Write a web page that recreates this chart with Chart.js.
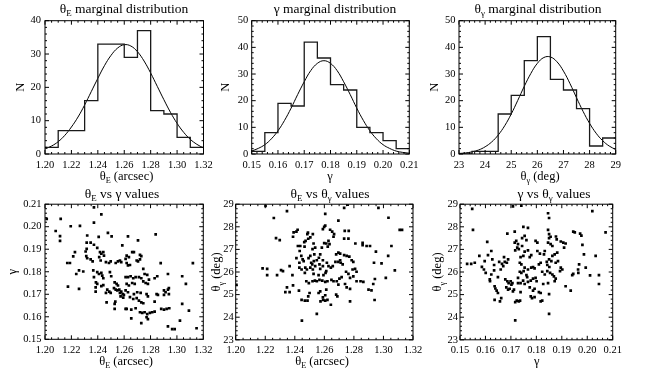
<!DOCTYPE html>
<html>
<head>
<meta charset="utf-8">
<script src="https://cdn.jsdelivr.net/npm/chart.js@4.4.0/dist/chart.umd.min.js"></script>
<style>
body { margin: 0; background: #fff; }
#wrap { position: relative; width: 646px; height: 371px; }
#wrap canvas { position: absolute; left: 0; top: 0; }
</style>
</head>
<body>
<div id="wrap">
<canvas id="p1" width="646" height="371"></canvas>
<canvas id="p2" width="646" height="371"></canvas>
<canvas id="p3" width="646" height="371"></canvas>
<canvas id="p4" width="646" height="371"></canvas>
<canvas id="p5" width="646" height="371"></canvas>
<canvas id="p6" width="646" height="371"></canvas>
</div>
<script>
// tick labels
var thetaETicks = ['1.20', '1.22', '1.24', '1.26', '1.28', '1.30', '1.32'];
var gammaTicks = ['0.15', '0.16', '0.17', '0.18', '0.19', '0.20', '0.21'];
var thetaGTicks = ['23', '24', '25', '26', '27', '28', '29'];
var n40Ticks = ['0', '10', '20', '30', '40'];
var n50Ticks = ['0', '10', '20', '30', '40', '50'];

// histograms (bin edges + counts)
var thetaEEdges = [1.20, 1.21, 1.22, 1.23, 1.24, 1.25, 1.26, 1.27, 1.28, 1.29, 1.30, 1.31, 1.32];
var thetaECounts = [2, 7, 7, 16, 33, 33, 29, 37, 13, 12, 5, 2];
var gammaEdges = [0.150, 0.155, 0.160, 0.165, 0.170, 0.175, 0.180, 0.185, 0.190, 0.195, 0.200, 0.205, 0.210];
var gammaCounts = [1, 8, 19, 18, 42, 36, 26, 24, 10, 8, 5, 2];
var thetaGEdges = [23.0, 23.5, 24.0, 24.5, 25.0, 25.5, 26.0, 26.5, 27.0, 27.5, 28.0, 28.5, 29.0];
var thetaGCounts = [0, 1, 1, 15, 22, 35, 44, 28, 24, 17, 3, 6];

// fitted curves
var thetaEFitX = [1.200, 1.205, 1.210, 1.215, 1.220, 1.225, 1.230, 1.235, 1.240, 1.245, 1.250, 1.255, 1.260,
    1.265, 1.270, 1.275, 1.280, 1.285, 1.290, 1.295, 1.300, 1.305, 1.310, 1.315, 1.320];
var thetaEFitN = [1.5, 2.4, 3.7, 5.6, 8.1, 11.1, 14.7, 18.7, 22.7, 26.5, 29.6, 31.8, 32.8,
    32.4, 30.7, 27.9, 24.3, 20.3, 16.3, 12.5, 9.2, 6.5, 4.4, 2.9, 1.8];
var gammaFitX = [0.1500, 0.1525, 0.1550, 0.1575, 0.1600, 0.1625, 0.1650, 0.1675, 0.1700, 0.1725, 0.1750, 0.1775,
    0.1800, 0.1825, 0.1850, 0.1875, 0.1900, 0.1925, 0.1950, 0.1975, 0.2000, 0.2025, 0.2050, 0.2075, 0.2100];
var gammaFitN = [1.1, 2.1, 3.5, 5.7, 8.7, 12.6, 17.2, 22.3, 27.1, 31.3, 34.0, 35.0,
    34.0, 31.3, 27.1, 22.3, 17.2, 12.6, 8.7, 5.7, 3.5, 2.1, 1.1, 0.6, 0.3];
var thetaGFitX = [23.00, 23.25, 23.50, 23.75, 24.00, 24.25, 24.50, 24.75, 25.00, 25.25, 25.50, 25.75, 26.00,
    26.25, 26.50, 26.75, 27.00, 27.25, 27.50, 27.75, 28.00, 28.25, 28.50, 28.75, 29.00];
var thetaGFitN = [0.2, 0.4, 0.8, 1.5, 2.7, 4.5, 7.1, 10.6, 15.0, 20.1, 25.4, 30.2, 34.0,
    36.2, 36.4, 34.6, 31.1, 26.4, 21.1, 16.0, 11.5, 7.8, 5.0, 3.0, 1.7];

// scatter: thetaE vs gamma
var egThetaE = [1.2013, 1.2119, 1.2371, 1.2427, 1.2371, 1.2195, 1.2265, 1.2081, 1.2114, 1.2114, 1.2320, 1.2407,
    1.2477, 1.2505, 1.2586, 1.2316, 1.2346, 1.2371, 1.2396, 1.2316, 1.2308, 1.2227, 1.2214, 1.2169, 1.2189,
    1.2237, 1.2258, 1.2290, 1.2174, 1.2258, 1.2313, 1.2320, 1.2346, 1.2361, 1.2417, 1.2427, 1.2442, 1.2447,
    1.2411, 1.2422, 1.2462, 1.2485, 1.2498, 1.2536, 1.2553, 1.2568, 1.2578, 1.2366, 1.2371, 1.2396, 1.2409,
    1.2427, 1.2434, 1.2442, 1.2492, 1.2502, 1.2386, 1.2396, 1.2384, 1.2427, 1.2442, 1.2384, 1.2472, 1.2487,
    1.2498, 1.2462, 1.2528, 1.2543, 1.2553, 1.2523, 1.2536, 1.2548, 1.2563, 1.2568, 1.2578, 1.2589, 1.2573,
    1.2593, 1.2598, 1.2533, 1.2528, 1.2528, 1.2467, 1.2611,
    1.2839, 1.2705, 1.2629, 1.2661, 1.2674, 1.2619, 1.2636, 1.2611, 1.2619, 1.2644, 1.2629, 1.2695, 1.2705,
    1.2720, 1.2730, 1.2720, 1.2877, 1.3121, 1.2745, 1.3040, 1.3068, 1.2932, 1.2611, 1.2629, 1.2649, 1.2669,
    1.2687, 1.2712, 1.2730, 1.2755, 1.2775, 1.2788, 1.2745, 1.2763, 1.2780, 1.2851, 1.2831, 1.2619, 1.2636,
    1.2661, 1.2680, 1.2611, 1.2629, 1.2644, 1.2669, 1.2695, 1.2712, 1.2730, 1.2745, 1.2674, 1.2699, 1.2725,
    1.2770, 1.2780, 1.2846, 1.2856, 1.2902, 1.2914, 1.2932, 1.2939, 1.2902, 1.2939, 1.2831, 1.3040, 1.2619,
    1.2654, 1.2687, 1.2720, 1.2737, 1.2755, 1.2775, 1.2795, 1.2813, 1.2831, 1.2654, 1.2770, 1.2780, 1.2730,
    1.2881, 1.2902, 1.2922, 1.2942, 1.3091, 1.3023, 1.2932, 1.2964, 1.2983, 1.3149];
var egGamma = [0.2035, 0.2035, 0.2086, 0.2055, 0.2018, 0.2002, 0.2004, 0.1981, 0.1958, 0.1937, 0.1961, 0.1955,
    0.1973, 0.1957, 0.1917, 0.1929, 0.1929, 0.1920, 0.1906, 0.1902, 0.1890, 0.1887, 0.1868, 0.1839, 0.1839,
    0.1790, 0.1806, 0.1801, 0.1734, 0.1724, 0.1869, 0.1860, 0.1855, 0.1846, 0.1887, 0.1880, 0.1887, 0.1872,
    0.1865, 0.1850, 0.1843, 0.1839, 0.1846, 0.1839, 0.1846, 0.1850, 0.1843, 0.1806, 0.1776, 0.1798, 0.1790,
    0.1795, 0.1783, 0.1771, 0.1798, 0.1780, 0.1753, 0.1746, 0.1731, 0.1736, 0.1741, 0.1712, 0.1721, 0.1712,
    0.1706, 0.1706, 0.1753, 0.1746, 0.1739, 0.1727, 0.1721, 0.1717, 0.1721, 0.1706, 0.1712, 0.1701, 0.1691,
    0.1685, 0.1697, 0.1667, 0.1657, 0.1635, 0.1664, 0.1635,
    0.1966, 0.1939, 0.1957, 0.1887, 0.1887, 0.1872, 0.1865, 0.1857, 0.1839, 0.1830, 0.1828, 0.1850, 0.1846,
    0.1855, 0.1869, 0.1875, 0.1838, 0.1838, 0.1813, 0.1780, 0.1746, 0.1790, 0.1776, 0.1776, 0.1780, 0.1771,
    0.1776, 0.1776, 0.1771, 0.1790, 0.1786, 0.1765, 0.1757, 0.1750, 0.1746, 0.1780, 0.1771, 0.1746, 0.1739,
    0.1750, 0.1746, 0.1717, 0.1709, 0.1687, 0.1679, 0.1683, 0.1672, 0.1664, 0.1660, 0.1701, 0.1709, 0.1706,
    0.1701, 0.1691, 0.1701, 0.1697, 0.1717, 0.1709, 0.1721, 0.1727, 0.1697, 0.1701, 0.1667, 0.1657, 0.1635,
    0.1632, 0.1638, 0.1620, 0.1617, 0.1620, 0.1612, 0.1617, 0.1620, 0.1623, 0.1593, 0.1598, 0.1590, 0.1572,
    0.1635, 0.1632, 0.1635, 0.1638, 0.1627, 0.1583, 0.1557, 0.1545, 0.1545, 0.1549];

// scatter: thetaE vs theta_gamma
var etThetaE = [1.2202, 1.2258, 1.2347, 1.2273, 1.2298, 1.2388, 1.2392, 1.2411, 1.2419, 1.2421, 1.2433, 1.2444,
    1.2453, 1.2460, 1.2431, 1.2485, 1.2489, 1.2464, 1.2473, 1.2491, 1.2505, 1.2522, 1.2527, 1.2520, 1.2532,
    1.2538, 1.2511, 1.2518, 1.2529, 1.2549, 1.2563, 1.2567, 1.2590, 1.2471, 1.2482, 1.2468, 1.2431, 1.2446,
    1.2505, 1.2522, 1.2538, 1.2572, 1.2590, 1.2478, 1.2495, 1.2520, 1.2536, 1.2549, 1.2567, 1.2586, 1.2428,
    1.2446, 1.2468, 1.2486, 1.2448, 1.2549, 1.2500, 1.2491, 1.2561, 1.2572, 1.2590, 1.2574, 1.2592, 1.2606,
    1.2336, 1.2365, 1.2347, 1.2388, 1.2384, 1.2320, 1.2307, 1.2182, 1.2213, 1.2213, 1.2280, 1.2365, 1.2411,
    1.2437, 1.2466, 1.2493, 1.2505, 1.2583, 1.2572, 1.2590, 1.2599, 1.2606, 1.2599, 1.2594, 1.2608, 1.2561,
    1.2527, 1.2005,
    1.2606, 1.2695, 1.2639, 1.2653, 1.2666, 1.2662, 1.2628, 1.2613, 1.2635, 1.2623, 1.2738, 1.2765, 1.2734,
    1.2763, 1.2810, 1.2859, 1.2859, 1.2886, 1.2909, 1.2949, 1.3054, 1.3032, 1.2987, 1.2936, 1.3077, 1.3016,
    1.2942, 1.2931, 1.2899, 1.2919, 1.2940, 1.2864, 1.2845, 1.2818, 1.2774, 1.2751, 1.2740, 1.2774, 1.2796,
    1.2818, 1.2791, 1.2808, 1.2763, 1.2747, 1.2717, 1.2702, 1.2684, 1.2695, 1.2662, 1.2648, 1.2644, 1.2657,
    1.2675, 1.2695, 1.2711, 1.2724, 1.2707, 1.2734, 1.2751, 1.2769, 1.2785, 1.2796, 1.2695, 1.2707, 1.2680,
    1.2617, 1.2628, 1.2613, 1.2621, 1.2606, 1.2613, 1.2606, 1.2621, 1.2680, 1.2688, 1.2644, 1.2774, 1.2734,
    1.2758, 1.2966, 1.3034, 1.3110, 1.3126];
var etThetaG = [28.93, 28.39, 28.69, 27.50, 27.41, 27.56, 27.75, 27.79, 27.87, 27.15, 26.93, 26.71,
    26.56, 26.48, 26.41, 27.68, 27.74, 27.32, 27.38, 27.47, 27.53, 27.68, 27.26, 27.01, 26.78,
    27.08, 26.41, 26.34, 26.48, 26.52, 26.63, 26.34, 26.52, 26.19, 26.11, 25.96, 26.19, 26.11,
    26.19, 26.11, 26.26, 26.14, 26.26, 25.59, 25.51, 25.59, 25.62, 25.59, 25.65, 25.62, 25.18,
    24.77, 24.73, 24.73, 23.85, 24.15, 25.07, 24.92, 25.07, 25.14, 24.88, 24.70, 24.76, 24.73,
    25.11, 25.11, 25.32, 25.41, 25.86, 26.04, 26.08, 26.16, 26.14, 25.86, 25.86, 26.26, 26.61,
    27.15, 27.12, 26.61, 26.71, 27.08, 26.78, 27.90, 28.00, 28.57, 27.28, 25.86, 25.96, 25.86,
    25.92, 25.43,
    28.05, 28.27, 27.87, 27.79, 27.68, 27.56, 27.38, 27.26, 27.23, 27.12, 27.82, 27.82, 27.48,
    27.48, 27.26, 27.29, 27.19, 27.15, 27.15, 26.90, 27.15, 26.71, 26.38, 26.41, 26.07, 25.74,
    25.69, 25.47, 25.22, 25.19, 24.76, 25.56, 25.59, 25.59, 25.25, 25.32, 25.47, 25.74, 25.81,
    26.01, 26.11, 26.14, 25.92, 26.01, 25.77, 25.71, 25.59, 25.44, 25.59, 25.65, 26.19, 26.26,
    26.45, 26.45, 26.41, 26.34, 26.52, 26.75, 26.71, 26.68, 26.52, 26.45, 26.86, 26.81, 26.78,
    26.41, 26.26, 26.04, 25.59, 25.56, 25.22, 24.97, 24.77, 25.00, 24.92, 24.55, 24.70, 28.84,
    28.98, 28.84, 28.40, 27.86, 27.86];

// scatter: gamma vs theta_gamma
var gtGamma = [0.1548, 0.1551, 0.1528, 0.1544, 0.1558, 0.1576, 0.1586, 0.1597, 0.1594, 0.1601, 0.1607, 0.1610,
    0.1623, 0.1617, 0.1618, 0.1627, 0.1634, 0.1634, 0.1623, 0.1636, 0.1639, 0.1644, 0.1636, 0.1649, 0.1657,
    0.1662, 0.1649, 0.1660, 0.1665, 0.1670, 0.1673, 0.1654, 0.1676, 0.1684, 0.1689, 0.1678, 0.1686, 0.1691,
    0.1682, 0.1689, 0.1695, 0.1699, 0.1706, 0.1702, 0.1708, 0.1712, 0.1717, 0.1723, 0.1731, 0.1736, 0.1717,
    0.1686, 0.1715, 0.1708, 0.1741, 0.1715, 0.1721, 0.1728, 0.1717, 0.1725, 0.1731, 0.1749, 0.1767, 0.1744,
    0.1754, 0.1761, 0.1744, 0.1754, 0.1767, 0.1738, 0.1749, 0.1774, 0.1780, 0.1735, 0.1741, 0.1754, 0.1767,
    0.1780, 0.1787, 0.1793, 0.1735, 0.1741, 0.1750, 0.1761, 0.1764, 0.1728, 0.1728, 0.1738, 0.1748, 0.1754,
    0.1767, 0.1778, 0.1787, 0.1774, 0.1738, 0.1778, 0.1783, 0.1793, 0.1793, 0.1787,
    0.1846, 0.1850, 0.1846, 0.1850, 0.1856, 0.1850, 0.1877, 0.1880, 0.1846, 0.1856, 0.1863, 0.1896, 0.1906,
    0.1915, 0.1909, 0.1945, 0.1951, 0.1972, 0.1977, 0.2020, 0.2072, 0.2105, 0.1981, 0.1987, 0.1968, 0.1964,
    0.1965, 0.2033, 0.1994, 0.2011, 0.2046, 0.2046, 0.1941, 0.1945, 0.1935, 0.1915, 0.1896, 0.1902, 0.1893,
    0.1876, 0.1885, 0.1863, 0.1872, 0.1882, 0.1850, 0.1859, 0.1841, 0.1843, 0.1851, 0.1830, 0.1833, 0.1797,
    0.1804, 0.1804, 0.1814, 0.1817, 0.1810, 0.1823, 0.1833, 0.1843, 0.1854, 0.1863, 0.1869, 0.1876, 0.1872,
    0.1846, 0.1827, 0.1850, 0.1810, 0.1817, 0.1817, 0.1823, 0.1850, 0.1797, 0.1801];
var gtThetaG = [28.79, 27.86, 26.36, 26.36, 26.41, 26.71, 26.23, 26.48, 26.11, 25.96, 27.33, 26.75,
    26.93, 25.67, 25.59, 26.56, 26.31, 26.07, 25.89, 25.37, 25.27, 25.18, 24.77, 25.07, 24.70,
    24.84, 25.77, 26.11, 26.36, 26.26, 26.66, 26.45, 26.45, 26.41, 26.56, 25.67, 25.59, 25.51,
    25.32, 25.22, 25.26, 25.59, 25.51, 25.44, 25.14, 25.22, 24.67, 24.73, 24.70, 24.73, 23.86,
    27.70, 27.79, 28.90, 28.94, 27.30, 27.38, 27.23, 26.96, 27.08, 27.01, 28.00, 27.95, 27.50,
    27.60, 27.41, 27.15, 26.90, 26.96, 26.66, 26.71, 26.66, 26.75, 26.41, 26.34, 26.19, 26.11,
    26.19, 26.22, 26.16, 26.01, 25.96, 26.04, 25.86, 25.77, 25.74, 25.51, 25.51, 25.62, 25.47,
    25.56, 25.62, 25.71, 25.32, 25.11, 24.92, 24.84, 24.89, 25.26, 25.18,
    28.60, 28.39, 27.86, 27.68, 27.56, 27.50, 27.57, 27.44, 27.30, 27.23, 27.15, 27.35, 27.30,
    27.26, 27.08, 27.79, 27.75, 27.70, 27.61, 28.69, 27.75, 26.96, 27.20, 26.78, 26.34, 26.11,
    25.96, 26.71, 26.19, 25.85, 25.86, 25.47, 25.86, 25.92, 25.18, 25.37, 26.19, 26.11, 26.04,
    26.41, 26.48, 26.71, 26.78, 26.86, 26.56, 26.48, 26.45, 26.31, 26.22, 26.78, 26.93, 27.38,
    27.30, 26.93, 26.81, 26.41, 26.34, 26.01, 25.89, 26.04, 25.96, 25.89, 25.81, 25.71, 25.59,
    25.51, 25.47, 25.02, 25.11, 25.07, 24.70, 24.73, 24.15, 25.74, 25.59];

var SERIF = '"Liberation Serif", "Times New Roman", serif';

function xy(xs, ys) {
    return xs.map((x, i) => ({ x: x, y: ys[i] }));
}
function stepPoints(edges, counts) {
    // last edge repeats the last count so the final bin gets its top
    return edges.map((e, i) => ({ x: e, y: counts[Math.min(i, counts.length - 1)] }));
}

// text with subscripts: runs = [[text, isSub], ...]
function richWidth(ctx, runs, size) {
    var w = 0;
    runs.forEach(function (r) {
        ctx.font = (r[1] ? size * 0.66 : size) + 'px ' + SERIF;
        w += ctx.measureText(r[0]).width;
    });
    return w;
}
function drawRich(ctx, runs, cx, cy, size, angle) {
    ctx.save();
    ctx.translate(cx, cy);
    if (angle) ctx.rotate(angle);
    var x = -richWidth(ctx, runs, size) / 2;
    ctx.fillStyle = '#000';
    ctx.textBaseline = 'alphabetic';
    ctx.textAlign = 'left';
    runs.forEach(function (r) {
        var s = r[1] ? size * 0.66 : size;
        ctx.font = s + 'px ' + SERIF;
        ctx.fillText(r[0], x, size * 0.34 + (r[1] ? size * 0.26 : 0));
        x += ctx.measureText(r[0]).width;
    });
    ctx.restore();
}

var richTextPlugin = {
    id: 'richText',
    afterDraw: function (chart, args, o) {
        var ctx = chart.ctx, a = chart.chartArea;
        drawRich(ctx, o.title, o.titleX, o.titleY, 13.5);
        drawRich(ctx, o.xTitle, o.xTitleX, o.xTitleY, 12.5);
        drawRich(ctx, o.yTitle, o.yTitleX, (a.top + a.bottom) / 2, 12.5, -Math.PI / 2);
    }
};

// box round the plot with inward major/minor ticks on all four sides
var framePlugin = {
    id: 'frame',
    afterDraw: function (chart, args, o) {
        var ctx = chart.ctx, a = chart.chartArea;
        ctx.save();
        ctx.strokeStyle = '#000';
        ctx.lineWidth = 1;
        ctx.strokeRect(a.left, a.top, a.right - a.left, a.bottom - a.top);
        ctx.beginPath();
        ['x', 'y'].forEach(function (k) {
            var sc = chart.scales[k];
            var vals = sc.ticks.map(t => t.value);
            var nMinor = k === 'x' ? o.xMinor : o.yMinor;
            for (var i = 0; i < vals.length; i++) {
                var marks = [[vals[i], 4]];
                if (i < vals.length - 1) {
                    for (var m = 1; m < nMinor; m++) {
                        marks.push([vals[i] + (vals[i + 1] - vals[i]) * m / nMinor, 2]);
                    }
                }
                marks.forEach(function (mk) {
                    var p = sc.getPixelForValue(mk[0]);
                    if (k === 'x') {
                        ctx.moveTo(p, a.bottom); ctx.lineTo(p, a.bottom - mk[1]);
                        ctx.moveTo(p, a.top); ctx.lineTo(p, a.top + mk[1]);
                    } else {
                        ctx.moveTo(a.left, p); ctx.lineTo(a.left + mk[1], p);
                        ctx.moveTo(a.right, p); ctx.lineTo(a.right - mk[1], p);
                    }
                });
            }
        });
        ctx.stroke();
        ctx.restore();
    }
};

// axis box sizes are forced so that the plot area lands where it should;
// tick labels are clipped to that box, so it has to stay as wide as the gap
function axis(labels, dir, pad, size) {
    return {
        type: 'linear',
        min: parseFloat(labels[0]),
        max: parseFloat(labels[labels.length - 1]),
        grid: { display: false, drawTicks: false },
        border: { display: false },
        ticks: {
            autoSkip: false,
            maxRotation: 0,
            padding: pad,
            color: '#000',
            font: { family: SERIF, size: 10.5 },
            callback: function (v, i) { return labels[i]; }
        },
        afterBuildTicks: function (s) {
            s.ticks = labels.map(l => ({ value: parseFloat(l) }));
        },
        afterFit: function (s) {
            if (dir === 'x') s.height = size; else s.width = size;
            s.paddingLeft = s.paddingRight = s.paddingTop = s.paddingBottom = 0;
        }
    };
}

function makePanel(id, p) {
    new Chart(document.getElementById(id), {
        type: p.type,
        data: { datasets: p.datasets },
        options: {
            responsive: false,
            animation: false,
            devicePixelRatio: 1,
            events: [],
            layout: { padding: { left: 0, right: 646 - p.area[1], top: p.area[2], bottom: 0 } },
            plugins: {
                legend: { display: false },
                tooltip: { enabled: false },
                frame: { xMinor: p.xMinor, yMinor: p.yMinor },
                richText: p.text
            },
            scales: {
                x: axis(p.xLabels, 'x', 4.5, 371 - p.area[3]),
                y: axis(p.yLabels, 'y', p.yPad, p.area[0])
            }
        },
        plugins: [framePlugin, richTextPlugin]
    });
}

function histSets(edges, counts, fitX, fitN) {
    return [
        { data: stepPoints(edges, counts), stepped: true, borderColor: '#1a1a1a', borderWidth: 1.3, pointRadius: 0, fill: false },
        { data: xy(fitX, fitN), tension: 0.4, borderColor: '#000', borderWidth: 1, pointRadius: 0, fill: false }
    ];
}
function scatterSet(xs, ys) {
    return [{ data: xy(xs, ys), pointStyle: 'rect', pointRadius: 1.9, pointBorderWidth: 0, backgroundColor: '#000' }];
}

var SUB_E = [['θ', 0], ['E', 1]];

makePanel('p1', {
    type: 'line', area: [45, 203.5, 20.7, 154], xLabels: thetaETicks, yLabels: n40Ticks, yPad: 4, xMinor: 4, yMinor: 5,
    datasets: histSets(thetaEEdges, thetaECounts, thetaEFitX, thetaEFitN),
    text: { title: SUB_E.concat([[' marginal distribution', 0]]), titleX: 124, titleY: 8.3,
        xTitle: SUB_E.concat([[' (arcsec)', 0]]), xTitleX: 126.5, xTitleY: 175.7,
        yTitle: [['N', 0]], yTitleX: 20 }
});
makePanel('p2', {
    type: 'line', area: [251.7, 409.3, 20.7, 154], xLabels: gammaTicks, yLabels: n50Ticks, yPad: 3.5, xMinor: 5, yMinor: 5,
    datasets: histSets(gammaEdges, gammaCounts, gammaFitX, gammaFitN),
    text: { title: [['γ marginal distribution', 0]], titleX: 335, titleY: 8.3,
        xTitle: [['γ', 0]], xTitleX: 330, xTitleY: 175.7,
        yTitle: [['N', 0]], yTitleX: 225 }
});
makePanel('p3', {
    type: 'line', area: [459, 615.7, 20.7, 154], xLabels: thetaGTicks, yLabels: n50Ticks, yPad: 3.5, xMinor: 5, yMinor: 5,
    datasets: histSets(thetaGEdges, thetaGCounts, thetaGFitX, thetaGFitN),
    text: { title: [['θ', 0], ['γ', 1], [' marginal distribution', 0]], titleX: 538, titleY: 8.3,
        xTitle: [['θ', 0], ['γ', 1], [' (deg)', 0]], xTitleX: 540, xTitleY: 175.7,
        yTitle: [['N', 0]], yTitleX: 433.5 }
});
makePanel('p4', {
    type: 'scatter', area: [45, 203.3, 204.2, 339.3], xLabels: thetaETicks, yLabels: gammaTicks, yPad: 3.5, xMinor: 4, yMinor: 5,
    datasets: scatterSet(egThetaE, egGamma),
    text: { title: SUB_E.concat([[' vs γ values', 0]]), titleX: 122, titleY: 193.3,
        xTitle: SUB_E.concat([[' (arcsec)', 0]]), xTitleX: 126, xTitleY: 360.7,
        yTitle: [['γ', 0]], yTitleX: 12 }
});
makePanel('p5', {
    type: 'scatter', area: [235.7, 413, 204.2, 339.8], xLabels: thetaETicks, yLabels: thetaGTicks, yPad: 2, xMinor: 4, yMinor: 5,
    datasets: scatterSet(etThetaE, etThetaG),
    text: { title: SUB_E.concat([[' vs θ', 0], ['γ', 1], [' values', 0]]), titleX: 330, titleY: 193.3,
        xTitle: SUB_E.concat([[' (arcsec)', 0]]), xTitleX: 322, xTitleY: 360.7,
        yTitle: [['θ', 0], ['γ', 1], [' (deg)', 0]], yTitleX: 216 }
});
makePanel('p6', {
    type: 'scatter', area: [460, 612.7, 204.2, 339.8], xLabels: gammaTicks, yLabels: thetaGTicks, yPad: 2, xMinor: 5, yMinor: 5,
    datasets: scatterSet(gtGamma, gtThetaG),
    text: { title: [['γ vs θ', 0], ['γ', 1], [' values', 0]], titleX: 554, titleY: 193.3,
        xTitle: [['γ', 0]], xTitleX: 536.7, xTitleY: 360.7,
        yTitle: [['θ', 0], ['γ', 1], [' (deg)', 0]], yTitleX: 437 }
});
</script>
</body>
</html>
